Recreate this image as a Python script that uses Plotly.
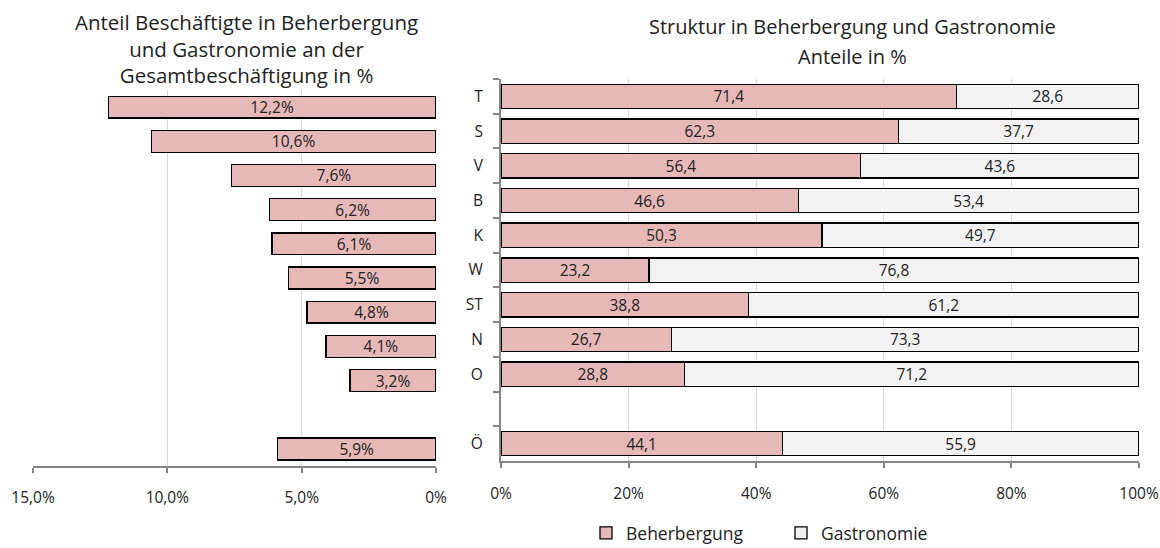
import plotly.graph_objects as go

# ---- data ----
regions = ["T", "S", "V", "B", "K", "W", "ST", "N", "O", " ", "Ö"]
anteil_gesamt = [12.2, 10.6, 7.6, 6.2, 6.1, 5.5, 4.8, 4.1, 3.2, None, 5.9]
beherbergung = [71.4, 62.3, 56.4, 46.6, 50.3, 23.2, 38.8, 26.7, 28.8, None, 44.1]
gastronomie = [28.6, 37.7, 43.6, 53.4, 49.7, 76.8, 61.2, 73.3, 71.2, None, 55.9]
left_tickvals = [15, 10, 5, 0]
left_ticktext = ["15,0%", "10,0%", "5,0%", "0%"]
title_left = "Anteil Beschäftigte in Beherbergung<br>und Gastronomie an der<br>Gesamtbeschäftigung in %"
title_right_1 = "Struktur in Beherbergung und Gastronomie"
title_right_2 = "Anteile in %"

W, H = 1160, 548
PINK = "#E6B8B7"
GREY = "#F2F2F2"
FONT = "Open Sans"
AXIS = "#868686"
GRID = "#D9D9D9"
TXT = "#222222"

fig = go.Figure()

fig.add_trace(go.Bar(
    x=anteil_gesamt, y=regions, orientation="h", xaxis="x", yaxis="y",
    marker=dict(color=PINK, line=dict(color="black", width=1.3)),
    width=0.64, texttemplate="%{x:.1f}%", textposition="inside",
    insidetextanchor="middle", constraintext="none",
    textfont=dict(family=FONT, size=15.5, color=TXT),
    showlegend=False, hoverinfo="skip",
))
fig.add_trace(go.Bar(
    name="Beherbergung", x=beherbergung, y=regions, orientation="h",
    xaxis="x2", yaxis="y2",
    marker=dict(color=PINK, line=dict(color="black", width=1.3)),
    width=0.7, texttemplate="%{x:.1f}", textposition="inside",
    insidetextanchor="middle", constraintext="none",
    textfont=dict(family=FONT, size=15.5, color=TXT),
))
fig.add_trace(go.Bar(
    name="Gastronomie", x=gastronomie, y=regions, orientation="h",
    xaxis="x2", yaxis="y2",
    marker=dict(color=GREY, line=dict(color="black", width=1.3)),
    width=0.7, texttemplate="%{x:.1f}", textposition="inside",
    insidetextanchor="middle", constraintext="none",
    textfont=dict(family=FONT, size=15.5, color=TXT),
))

tickfont = dict(family=FONT, size=15.5, color=TXT)

fig.update_layout(
    width=W, height=H,
    margin=dict(l=0, r=0, t=0, b=0, autoexpand=False),
    paper_bgcolor="white", plot_bgcolor="white",
    separators=",.",
    barmode="stack",
    font=dict(family=FONT, color=TXT),
    xaxis=dict(
        domain=[33 / W, 436 / W], anchor="y", range=[15, 0],
        tickvals=left_tickvals, ticktext=left_ticktext, tickfont=tickfont,
        showgrid=True, gridcolor=GRID, gridwidth=1, zeroline=False,
        showline=True, linecolor=AXIS, linewidth=2,
        ticks="outside", ticklen=5, tickcolor=AXIS, tickwidth=2,
        ticklabelstandoff=11, automargin=False,
    ),
    yaxis=dict(
        domain=[(H - 466) / H, (H - 90) / H], anchor="x",
        categoryorder="array", categoryarray=regions, autorange="reversed",
        showticklabels=False, showline=False, showgrid=False, ticks="",
        automargin=False,
    ),
    xaxis2=dict(
        domain=[501 / W, 1139 / W], anchor="y2", range=[0, 100], dtick=20,
        ticksuffix="%", tickfont=tickfont,
        showgrid=True, gridcolor=GRID, gridwidth=1, zeroline=False,
        showline=True, linecolor=AXIS, linewidth=2,
        ticks="outside", ticklen=5, tickcolor=AXIS, tickwidth=2,
        ticklabelstandoff=12, automargin=False,
    ),
    yaxis2=dict(
        domain=[(H - 461) / H, (H - 79) / H], anchor="x2",
        categoryorder="array", categoryarray=regions, autorange="reversed",
        tickfont=tickfont, showline=True, linecolor=AXIS, linewidth=2,
        showgrid=False, ticks="outside", tickson="boundaries", ticklen=6,
        tickcolor=AXIS, tickwidth=2, ticklabelstandoff=13, automargin=False,
    ),
    legend=dict(
        orientation="h", x=586 / W, xanchor="left", y=(H - 533) / H,
        yanchor="middle", traceorder="normal",
        font=dict(family=FONT, size=17.5, color=TXT),
        entrywidth=150, entrywidthmode="pixels",
    ),
    annotations=[
        dict(text=title_left, x=246 / W, y=(H - 48) / H, xref="paper", yref="paper",
             xanchor="center", yanchor="middle", showarrow=False,
             font=dict(family=FONT, size=20.5, color=TXT)),
        dict(text=title_right_1, x=852 / W, y=(H - 26) / H, xref="paper", yref="paper",
             xanchor="center", yanchor="middle", showarrow=False,
             font=dict(family=FONT, size=20, color=TXT)),
        dict(text=title_right_2, x=852 / W, y=(H - 57) / H, xref="paper", yref="paper",
             xanchor="center", yanchor="middle", showarrow=False,
             font=dict(family=FONT, size=20, color=TXT)),
    ],
)

fig.write_html(
    "out.html",
    config={"displayModeBar": False},
    post_script="document.body.style.margin='0';document.body.style.overflow='hidden';",
)
